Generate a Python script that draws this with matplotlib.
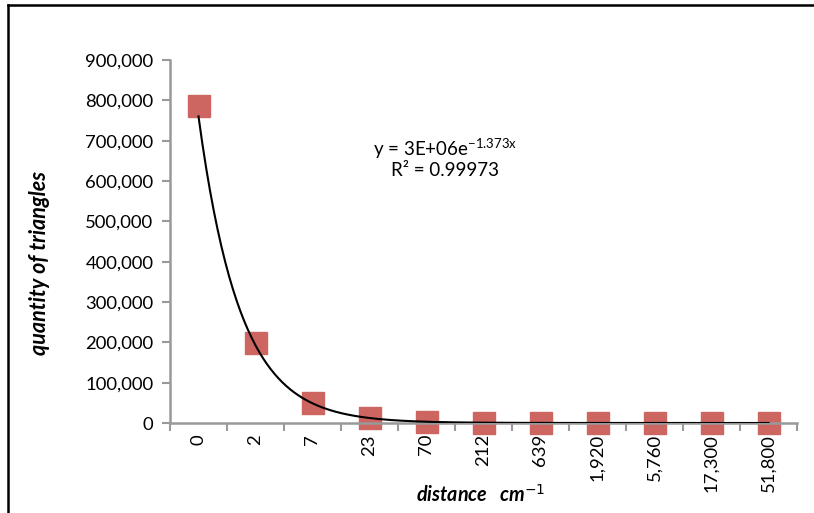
import numpy as np
import matplotlib
matplotlib.use('Agg')
from matplotlib import pyplot as plt
from matplotlib.lines import Line2D

# Data
distance_labels = ['0', '2', '7', '23', '70', '212', '639', '1,920', '5,760', '17,300', '51,800']
triangle_counts = [787000, 198000, 49000, 12300, 3100, 780, 196, 49, 12, 3, 1]

plt.rcParams['font.family'] = ['Lato', 'DejaVu Sans']
plt.rcParams['mathtext.default'] = 'regular'

fig = plt.figure(figsize=(8.14, 5.13), dpi=100)
ax = fig.add_axes([170 / 814, 1 - 423 / 513, (797 - 170) / 814, (423 - 60) / 513])

pos = np.arange(len(triangle_counts))
ax.plot(pos, triangle_counts, linestyle='none', marker='s', markersize=16,
        color='#CD6660', zorder=2, clip_on=False)

# exponential trendline (Excel style, x = 1..n)
xs = pos + 1
b, ln_a = np.polyfit(xs, np.log(triangle_counts), 1)
x_fit = np.linspace(1, len(xs), 300)
ax.plot(x_fit - 1, np.exp(ln_a) * np.exp(b * x_fit), color='black', lw=1.5, zorder=3)

ax.text(4.32, 680000, 'y = 3E+06e$^{-1.373x}$', ha='center', va='center', fontsize=13.5)
ax.text(4.32, 625000, 'R² = 0.99973', ha='center', va='center', fontsize=13.5)

ax.set_xlim(-0.5, len(pos) - 0.5)
ax.set_ylim(0, 900000)
ax.set_yticks(np.arange(0, 900001, 100000))
ax.set_yticklabels([f'{v:,}' for v in range(0, 900001, 100000)], fontsize=13.3)
ax.set_xticks(pos)
ax.set_xticklabels(distance_labels, rotation=90, fontsize=13.3)
ax.set_xticks(np.arange(-0.5, len(pos)), minor=True)
ax.tick_params(axis='x', which='major', length=0, pad=8)
ax.tick_params(axis='x', which='minor', length=6, color='#999999', width=1.5)
ax.tick_params(axis='y', length=6, color='#999999', width=1.5, pad=6)

for side in ['top', 'right']:
    ax.spines[side].set_visible(False)
for side in ['left', 'bottom']:
    ax.spines[side].set_color('#999999')
    ax.spines[side].set_linewidth(1.8)

fig.text(40 / 814, 1 - 263 / 513, 'quantity of triangles', rotation=90, ha='center',
         va='center', fontsize=15.5, fontweight='bold', fontstyle='italic')
fig.text(481 / 814, 1 - 495 / 513, 'distance   cm$^{\\mathit{-1}}$', ha='center', va='center',
         fontsize=14.2, fontweight='bold', fontstyle='italic')

# chart border (left and top visible)
fig.add_artist(Line2D([8 / 814, 8 / 814], [0, 1 - 5 / 513], color='black', lw=1.8,
                      transform=fig.transFigure))
fig.add_artist(Line2D([8 / 814, 1], [1 - 5 / 513, 1 - 5 / 513], color='black', lw=1.8,
                      transform=fig.transFigure))

fig.savefig('out.png', dpi=100)
